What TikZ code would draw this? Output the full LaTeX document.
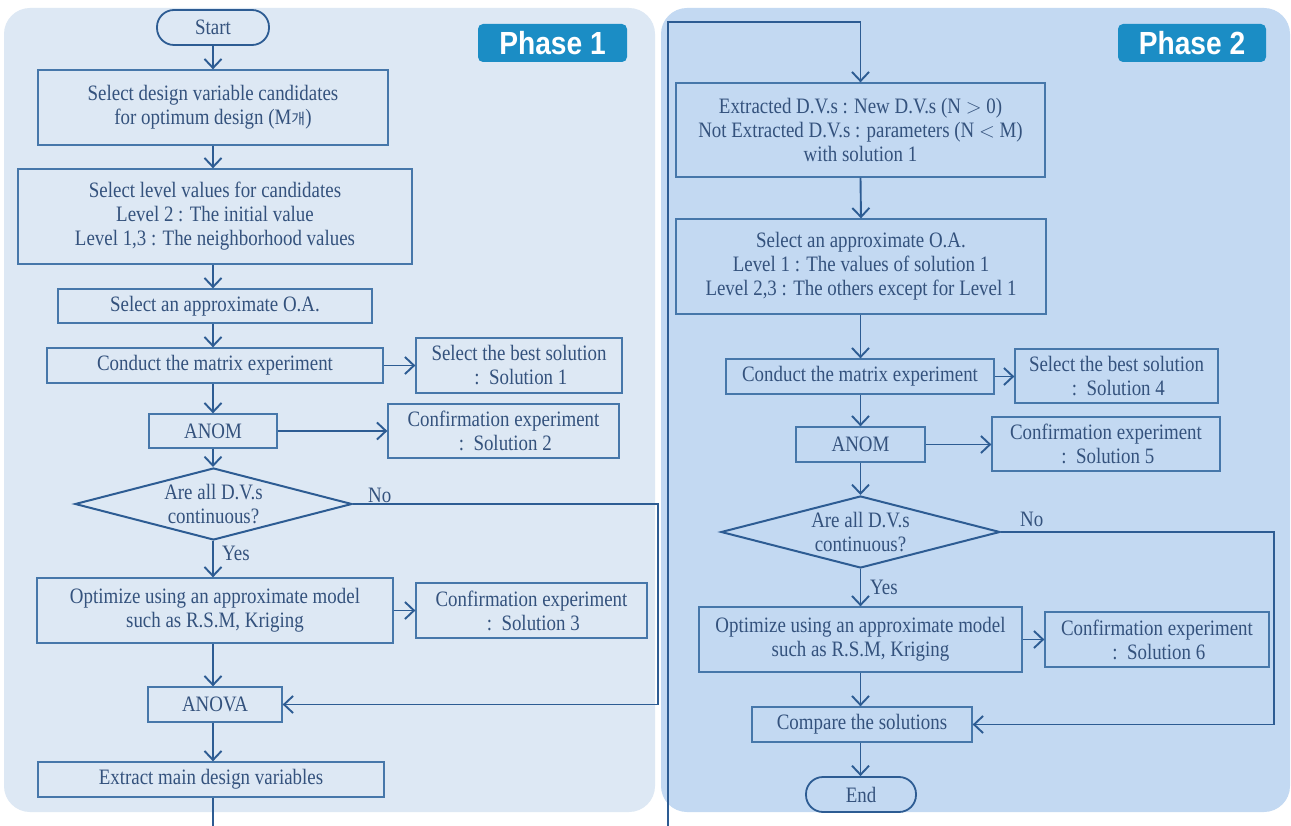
\documentclass[tikz,border=0pt]{standalone}
\usepackage{fontspec}
\setmainfont{Liberation Serif}[FakeStretch=0.86]
\newfontfamily\phasefont{Liberation Sans}
\newfontfamily\krfont{Noto Sans CJK KR}
\usetikzlibrary{shapes.geometric,arrows.meta}
\definecolor{panelA}{HTML}{DDE8F4}
\definecolor{panelB}{HTML}{C3D9F2}
\definecolor{labc}{HTML}{1B8DC5}
\definecolor{linec}{HTML}{2D5C93}
\definecolor{boxc}{HTML}{4677AA}
\definecolor{txtc}{HTML}{34527D}
\begin{document}
\begin{tikzpicture}[x=1pt,y=-1pt,
  box/.style={draw=boxc,line width=1.3pt,text=txtc,align=center,inner sep=0pt,
    font=\fontsize{22}{24}\selectfont},
  term/.style={box,draw=linec,line width=1.8pt,rounded corners=17pt},
  dia/.style={diamond,draw=linec,line width=2pt,inner sep=0pt},
  dtext/.style={text=txtc,align=center,inner sep=0pt,font=\fontsize{22}{24}\selectfont},
  lbl/.style={text=txtc,inner sep=0pt,font=\fontsize{22}{24}\selectfont},
  arr/.style={draw=linec,line width=1.9pt,-{Straight Barb[length=9pt,width=17pt,line width=1.9pt]}},
  phase/.style={fill=labc,rounded corners=5pt,text=white,inner sep=0pt,
    font=\phasefont\bfseries\fontsize{32}{32}\selectfont}]
\useasboundingbox (0,0) rectangle (1291,826);
\fill[white] (0,0) rectangle (1291,826);
% panels
\fill[panelA,rounded corners=26pt] (4,8) rectangle (655,812);
\fill[panelB,rounded corners=26pt] (661,8) rectangle (1290,812);
\node[phase,minimum width=149pt,minimum height=38pt] (ph1) at (552.5,43) {\scalebox{0.88}[1]{Phase 1}};
\node[phase,minimum width=148pt,minimum height=38pt] (ph2) at (1192,43) {\scalebox{0.88}[1]{Phase 2}};
% phase 1
\node[term,minimum width=112pt,minimum height=35pt] (start) at (213,27.5) {Start};
\node[box,minimum width=350pt,minimum height=75pt] (b1) at (213,107.5)
  {Select design variable candidates\\for optimum design (M{\krfont\fontsize{15}{24}\selectfont 개})};
\node[box,minimum width=394pt,minimum height=95pt] (b2) at (215,216.5)
  {Select level values for candidates\\Level 2 : The initial value\\Level 1,3 : The neighborhood values};
\node[box,minimum width=314pt,minimum height=34pt] (b3) at (215,306) {Select an approximate O.A.};
\node[box,minimum width=336pt,minimum height=35pt] (b4) at (215,365.5) {Conduct the matrix experiment};
\node[box,minimum width=206pt,minimum height=55pt] (b4r) at (519,365.5) {Select the best solution\\\,:\ \ Solution 1};
\node[box,minimum width=128pt,minimum height=34pt] (b5) at (213,431) {ANOM};
\node[box,minimum width=231pt,minimum height=54pt] (b5r) at (503.5,431) {Confirmation experiment\\\,:\ \ Solution 2};
\node[dia,minimum width=277pt,minimum height=72pt] (d1) at (213.5,504) {};
\node[dtext] (d1t) at (213.5,504) {Are all D.V.s\\continuous?};
\node[box,minimum width=356pt,minimum height=65pt] (b6) at (215,610.5)
  {Optimize using an approximate model\\such as R.S.M, Kriging};
\node[box,minimum width=231pt,minimum height=55pt] (b6r) at (531.5,610.5) {Confirmation experiment\\\,:\ \ Solution 3};
\node[box,minimum width=134pt,minimum height=35pt] (b7) at (215,704.5) {ANOVA};
\node[box,minimum width=346pt,minimum height=35pt] (b8) at (211,779.5) {Extract main design variables};
\node[lbl,anchor=west] (yes1) at (222,553) {Yes};
\node[lbl,anchor=west] (no1) at (368,495) {No};
% phase 2
\node[box,minimum width=369pt,minimum height=94pt] (r1) at (860.5,130)
  {Extracted D.V.s : New D.V.s (N $>$ 0)\\Not Extracted D.V.s : parameters (N $<$ M)\\with solution 1};
\node[box,minimum width=370pt,minimum height=95pt] (r2) at (861,266.5)
  {Select an approximate O.A.\\Level 1 : The values of solution 1\\Level 2,3 : The others except for Level 1};
\node[box,minimum width=268pt,minimum height=35pt] (r3) at (860,376.5) {Conduct the matrix experiment};
\node[box,minimum width=203pt,minimum height=54pt] (r3r) at (1116.5,376) {Select the best solution\\\,:\ \ Solution 4};
\node[box,minimum width=129pt,minimum height=35pt] (r4) at (860.5,444.5) {ANOM};
\node[box,minimum width=228pt,minimum height=54pt] (r4r) at (1106,444) {Confirmation experiment\\\,:\ \ Solution 5};
\node[dia,minimum width=279pt,minimum height=72pt] (d2) at (860.5,532) {};
\node[dtext] (d2t) at (860.5,532) {Are all D.V.s\\continuous?};
\node[box,minimum width=323pt,minimum height=65pt] (r5) at (860.5,639.5)
  {Optimize using an approximate model\\such as R.S.M, Kriging};
\node[box,minimum width=224pt,minimum height=55pt] (r5r) at (1157,639.5) {Confirmation experiment\\\,:\ \ Solution 6};
\node[box,minimum width=220pt,minimum height=35pt] (r6) at (862,724.5) {Compare the solutions};
\node[term,minimum width=110pt,minimum height=35pt] (end) at (861,794.5) {End};
\node[lbl,anchor=west] (yes2) at (870,587) {Yes};
\node[lbl,anchor=west] (no2) at (1020,519) {No};
% connectors phase 1
\draw[arr] (start.south) -- (start.south |- b1.north);
\draw[arr] (b1.south) -- (b1.south |- b2.north);
\draw[arr] (b1.south |- b2.south) -- (b1.south |- b3.north);
\draw[arr] (b1.south |- b3.south) -- (b1.south |- b4.north);
\draw[arr] (b4.east) -- (b4.east -| b4r.west);
\draw[arr] (b1.south |- b4.south) -- (b1.south |- b5.north);
\draw[arr] (b5.east) -- (b5.east -| b5r.west);
\draw[arr] (b1.south |- b5.south) -- (b1.south |- d1.north);
\draw[arr] (b1.south |- d1.south) -- (b1.south |- b6.north);
\draw[arr] (b6.east) -- (b6.east -| b6r.west);
\draw[arr] (b1.south |- b6.south) -- (b1.south |- b7.north);
\draw[arr] (b1.south |- b7.south) -- (b1.south |- b8.north);
\draw[arr] (d1.east) -- (658,504) -- (658,704.5) -- (b7.east);
% link between phases
\draw[arr] (b1.south |- b8.south) -- (213,860) -- (668,860) -- (668,22) -- (860.5,22) -- (r1.north);
% connectors phase 2
\draw[arr] (r1.south) -- (r2.north);
\draw[arr] (r1.south |- r2.south) -- (r1.south |- r3.north);
\draw[arr] (r3.east) -- (r3.east -| r3r.west);
\draw[arr] (r1.south |- r3.south) -- (r1.south |- r4.north);
\draw[arr] (r4.east) -- (r4.east -| r4r.west);
\draw[arr] (r1.south |- r4.south) -- (r1.south |- d2.north);
\draw[arr] (r1.south |- d2.south) -- (r1.south |- r5.north);
\draw[arr] (r5.east) -- (r5.east -| r5r.west);
\draw[arr] (r1.south |- r5.south) -- (r1.south |- r6.north);
\draw[arr] (r1.south |- r6.south) -- (r1.south |- end.north);
\draw[arr] (d2.east) -- (1274,532) -- (1274,724.5) -- (r6.east);
\end{tikzpicture}
\end{document}
